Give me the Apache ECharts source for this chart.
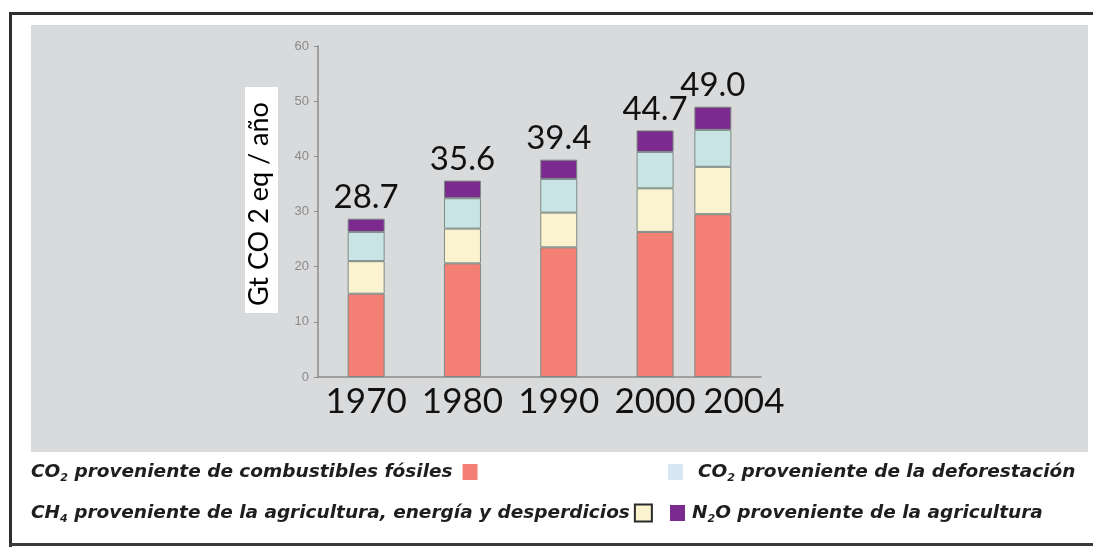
<!DOCTYPE html>
<html>
<head>
<meta charset="utf-8">
<script src="https://cdn.jsdelivr.net/npm/echarts@6/dist/echarts.min.js"></script>
<style>
html,body{margin:0;padding:0;background:#fff;}
#chart{width:1093px;height:550px;}
</style>
</head>
<body>
<div id="chart"></div>
<script>
// ---- data ----
const years = ['1970', '1980', '1990', '2000', '2004'];
const fossilCO2 = [15.1, 20.6, 23.5, 26.3, 29.5];
const methane = [5.9, 6.3, 6.3, 7.9, 8.6];
const deforestCO2 = [5.3, 5.5, 6.1, 6.6, 6.7];
const nitrousOxide = [2.4, 3.2, 3.5, 3.9, 4.2];
const totals = [28.7, 35.6, 39.4, 44.7, 49.0];
const yTickLabels = ['0', '10', '20', '30', '40', '50', '60'];
const seriesNames = [
  'CO2 proveniente de combustibles fósiles',
  'CH4 proveniente de la agricultura, energía y desperdicios',
  'CO2 proveniente de la deforestación',
  'N2O proveniente de la agricultura'
];
const yAxisTitle = 'Gt CO 2 eq / año';

// ---- layout: category slots (2004 sits closer to 2000 in the reference) ----
const SLOT_COUNT = 23;
const yearSlot = [2, 7, 12, 17, 20];
function spread(arr, fill) {
  const out = new Array(SLOT_COUNT).fill(fill);
  yearSlot.forEach((s, i) => { out[s] = arr[i]; });
  return out;
}
const categories = spread(years, '');

const colors = ['#f47f74', '#fbf2cf', '#c8e4e4', '#7b2a8e'];
const seriesData = [fossilCO2, methane, deforestCO2, nitrousOxide];

const chart = echarts.init(document.getElementById('chart'), null, {renderer: 'canvas'});

const LEG_FONT = 'DejaVu Sans';
const legendText = {
  fontFamily: LEG_FONT, fontWeight: 'bold', fontStyle: 'italic', fontSize: 18.5,
  color: '#1e1e1e', lineHeight: 24,
  rich: {
    sub: {fontFamily: LEG_FONT, fontWeight: 'bold', fontStyle: 'italic', fontSize: 11,
          color: '#1e1e1e', lineHeight: 12, verticalAlign: 'bottom'}
  }
};
const legendFmt = name => name.replace(/(CO|CH|N)(\d)/, '$1{sub|$2}');

function mkLegend(idx, left, top, align, extra) {
  return Object.assign({
    show: true, left: left, top: top, orient: 'horizontal', align: align,
    padding: 0, itemWidth: 15, itemHeight: 16, icon: 'rect', selectedMode: false,
    itemStyle: {borderWidth: 0},
    textStyle: legendText, formatter: legendFmt,
    data: [{name: seriesNames[idx]}]
  }, extra || {});
}

const option = {
  backgroundColor: '#ffffff',
  animation: false,
  grid: {left: 318, right: 332, top: 46, bottom: 173, containLabel: false},
  graphic: [
    {type: 'rect', z: -10, shape: {x: 31, y: 25, width: 1057, height: 427}, style: {fill: '#d9dadc'}},
    {type: 'rect', z: -9, shape: {x: 9, y: 12, width: 1084, height: 3}, style: {fill: '#2e2e2e'}},
    {type: 'rect', z: -9, shape: {x: 9, y: 12, width: 3, height: 535}, style: {fill: '#2e2e2e'}},
    {type: 'rect', z: -9, shape: {x: 9, y: 543, width: 1084, height: 3}, style: {fill: '#3a3a3a'}},
    {type: 'rect', z: -8, shape: {x: 245, y: 87, width: 33, height: 226}, style: {fill: '#ffffff'}},
    {type: 'text', z: 5, x: 259, y: 204, rotation: Math.PI / 2,
     style: {text: yAxisTitle, fontFamily: 'Lato', fontSize: 27, fill: '#000',
             align: 'center', verticalAlign: 'middle'}}
  ],
  legend: [
    mkLegend(0, 31, 460, 'right', {textStyle: Object.assign({}, legendText, {padding: [0, 5, 0, 0]})}),
    mkLegend(2, 668, 460, 'left', {data: [{name: seriesNames[2], itemStyle: {color: '#d6e7f3', borderWidth: 0}}],
      textStyle: Object.assign({}, legendText, {padding: [0, 0, 0, 10]})}),
    mkLegend(1, 31, 501, 'right', {itemWidth: 17, itemHeight: 17,
      data: [{name: seriesNames[1], itemStyle: {borderColor: '#2a2a2a', borderWidth: 2}}]}),
    mkLegend(3, 670, 501, 'left', {textStyle: Object.assign({}, legendText, {padding: [0, 0, 0, 2]})})
  ],
  xAxis: {
    type: 'category',
    data: categories,
    axisLine: {show: true, lineStyle: {color: '#8c8c8c', width: 1.5}},
    axisTick: {show: false},
    axisLabel: {
      interval: 0, margin: 7, color: '#111', fontFamily: 'Lato', fontSize: 35,
      formatter: v => (v === years[years.length - 1] ? '{shift|' + v + '}' : v),
      rich: {shift: {fontFamily: 'Lato', fontSize: 35, color: '#111', padding: [0, 0, 0, 62]}}
    },
    splitLine: {show: false}
  },
  yAxis: {
    type: 'value', min: 0, max: 60, interval: 10,
    axisLine: {show: true, lineStyle: {color: '#8c8c8c', width: 1.5}},
    axisTick: {show: true, length: 4, lineStyle: {color: '#8c8c8c'}},
    axisLabel: {margin: 9, color: '#8a8a8a', fontFamily: 'Liberation Sans', fontSize: 13,
      formatter: v => yTickLabels[Math.round(v / 10)]},
    splitLine: {show: false}
  },
  series: seriesData.map((arr, i) => ({
    name: seriesNames[i],
    type: 'bar',
    stack: 'total',
    barWidth: 37,
    data: spread(arr, null),
    itemStyle: {color: colors[i], borderColor: '#7d8a84', borderWidth: 1},
    label: i === 3 ? {
      show: true, position: 'top', distance: 5,
      fontFamily: 'Lato', fontSize: 33, color: '#111',
      formatter: p => totals[years.indexOf(p.name)].toFixed(1)
    } : {show: false}
  }))
};
chart.setOption(option);
</script>
</body>
</html>
